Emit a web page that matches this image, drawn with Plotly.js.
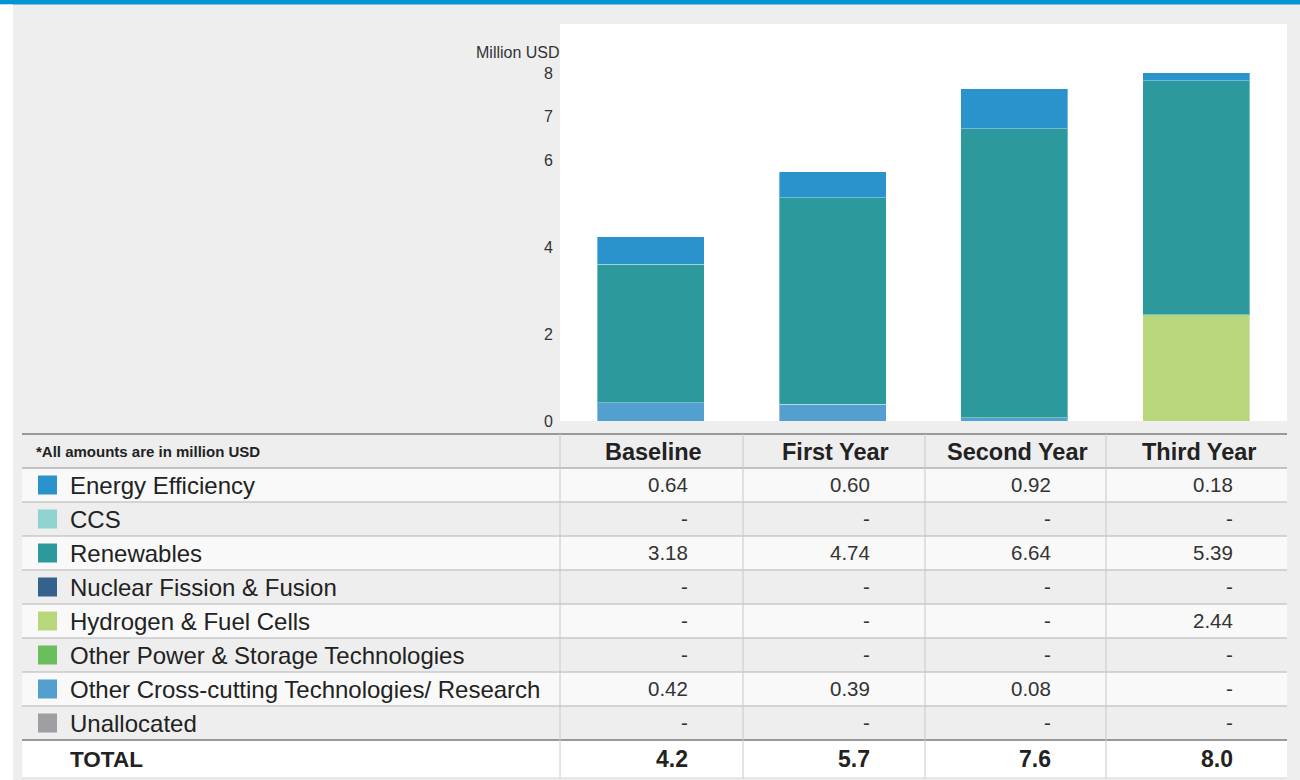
<!DOCTYPE html>
<html>
<head>
<meta charset="utf-8">
<script src="https://cdn.plot.ly/plotly-3.0.1.min.js"></script>
<style>html,body{margin:0;padding:0;background:#eeeeee;}#chart{width:1300px;height:780px;}</style>
</head>
<body>
<div id="chart"></div>
<script>
// ---- data ----
const categories = ['Baseline', 'First Year', 'Second Year', 'Third Year'];
const seriesNames = ['Energy Efficiency', 'CCS', 'Renewables', 'Nuclear Fission & Fusion',
  'Hydrogen & Fuel Cells', 'Other Power & Storage Technologies',
  'Other Cross-cutting Technologies/ Research', 'Unallocated'];
const seriesColors = ['#2a93cc', '#8fd3cf', '#2c9a9d', '#35628d', '#b8d67c', '#68bf5b', '#539fd0', '#9d9fa2'];
const energyEfficiency = [0.64, 0.60, 0.92, 0.18];
const ccs = [null, null, null, null];
const renewables = [3.18, 4.74, 6.64, 5.39];
const nuclear = [null, null, null, null];
const hydrogen = [null, null, null, 2.44];
const otherPower = [null, null, null, null];
const crossCutting = [0.42, 0.39, 0.08, null];
const unallocated = [null, null, null, null];
const totals = [4.2, 5.7, 7.6, 8.0];
const yTickVals = [0, 2, 4, 6, 7, 8];
const unitLabel = 'Million USD';
const tableNote = '*All amounts are in million USD';
const totalLabel = 'TOTAL';

const seriesValues = [energyEfficiency, ccs, renewables, nuclear, hydrogen, otherPower, crossCutting, unallocated];

// ---- layout geometry (pixels) ----
const W = 1300, H = 780;
const px = x => x / W;
const py = y => 1 - y / H;
const tableLeft = 22, tableRight = 1287;
const colEdges = [22, 560, 743, 925, 1106, 1287];
const headerTop = 434, headerBottom = 468, rowH = 34;
const totalBottom = 778;

// ---- bar traces (stacked bottom-up in reverse table order) ----
const traces = [];
for (let i = seriesNames.length - 1; i >= 0; i--) {
  traces.push({
    type: 'bar',
    name: seriesNames[i],
    x: categories,
    y: seriesValues[i],
    marker: { color: seriesColors[i], line: { color: 'rgba(255,255,255,0.35)', width: 1 } },
    hoverinfo: 'x+y+name'
  });
}

const shapes = [];
const annotations = [];

// top blue rule and white left strip
shapes.push({ type: 'rect', xref: 'paper', yref: 'paper', x0: 0, x1: 1, y0: py(4.5), y1: 1, fillcolor: '#0096d6', line: { width: 0 } });
shapes.push({ type: 'rect', xref: 'paper', yref: 'paper', x0: 0, x1: px(13), y0: 0, y1: py(4.5), fillcolor: '#ffffff', line: { width: 0 } });

// row backgrounds
for (let i = 0; i < seriesNames.length; i++) {
  const top = headerBottom + i * rowH;
  shapes.push({ type: 'rect', xref: 'paper', yref: 'paper', x0: px(tableLeft), x1: px(tableRight),
    y0: py(top + rowH), y1: py(top), fillcolor: i % 2 === 0 ? '#f9f9f9' : '#eeeeee', line: { width: 0 } });
}
const totalTop = headerBottom + seriesNames.length * rowH;
shapes.push({ type: 'rect', xref: 'paper', yref: 'paper', x0: px(tableLeft), x1: px(tableRight),
  y0: py(totalBottom), y1: py(totalTop), fillcolor: '#ffffff', line: { width: 0 } });

// horizontal lines
for (let i = 1; i < seriesNames.length; i++) {
  const y = headerBottom + i * rowH;
  shapes.push({ type: 'line', xref: 'paper', yref: 'paper', x0: px(tableLeft), x1: px(tableRight), y0: py(y), y1: py(y), line: { color: '#c8c8c8', width: 1.5 } });
}
shapes.push({ type: 'line', xref: 'paper', yref: 'paper', x0: px(tableLeft), x1: px(tableRight), y0: py(headerBottom), y1: py(headerBottom), line: { color: '#b0b0b0', width: 1.5 } });
shapes.push({ type: 'line', xref: 'paper', yref: 'paper', x0: px(tableLeft), x1: px(tableRight), y0: py(headerTop), y1: py(headerTop), line: { color: '#999999', width: 2 } });
shapes.push({ type: 'line', xref: 'paper', yref: 'paper', x0: px(tableLeft), x1: px(tableRight), y0: py(totalTop), y1: py(totalTop), line: { color: '#999999', width: 2 } });
shapes.push({ type: 'line', xref: 'paper', yref: 'paper', x0: px(tableLeft), x1: px(tableRight), y0: py(totalBottom), y1: py(totalBottom), line: { color: '#d8d8d8', width: 1 } });
// vertical lines
for (let c = 1; c < colEdges.length - 1; c++) {
  shapes.push({ type: 'line', xref: 'paper', yref: 'paper', x0: px(colEdges[c]), x1: px(colEdges[c]), y0: py(totalBottom), y1: py(headerTop), line: { color: '#c8c8c8', width: 1 } });
}

// header
annotations.push({ xref: 'paper', yref: 'paper', x: px(34), y: py((headerTop + headerBottom) / 2), xanchor: 'left', yanchor: 'middle',
  text: '<b>' + tableNote + '</b>', showarrow: false, font: { size: 15, color: '#222222' } });
categories.forEach(cat => {
  annotations.push({ xref: 'x', yref: 'paper', x: cat, xshift: 3, y: py((headerTop + headerBottom) / 2 + 1), xanchor: 'center', yanchor: 'middle',
    text: '<b>' + cat + '</b>', showarrow: false, font: { size: 23.5, color: '#222222' } });
});

// body rows
const fmt = v => (v === null || v === undefined) ? '-' : v.toFixed(2);
seriesNames.forEach((name, i) => {
  const top = headerBottom + i * rowH;
  const mid = top + rowH / 2;
  shapes.push({ type: 'rect', xref: 'paper', yref: 'paper', x0: px(38), x1: px(57), y0: py(mid + 9.5), y1: py(mid - 9.5), fillcolor: seriesColors[i], line: { width: 0 } });
  annotations.push({ xref: 'paper', yref: 'paper', x: px(68), y: py(mid + 0.5), xanchor: 'left', yanchor: 'middle',
    text: name, showarrow: false, font: { size: 24, color: '#222222' } });
  categories.forEach((cat, j) => {
    annotations.push({ xref: 'x', yref: 'paper', x: cat, xshift: 39, y: py(mid - 1), xanchor: 'right', yanchor: 'middle',
      text: fmt(seriesValues[i][j]), showarrow: false, font: { size: 20.5, color: '#333333' } });
  });
});

// total row
const totalMid = (totalTop + totalBottom) / 2;
annotations.push({ xref: 'paper', yref: 'paper', x: px(68), y: py(totalMid), xanchor: 'left', yanchor: 'middle',
  text: '<b>' + totalLabel + '</b>', showarrow: false, font: { size: 22.5, color: '#222222' } });
categories.forEach((cat, j) => {
  annotations.push({ xref: 'x', yref: 'paper', x: cat, xshift: 39, y: py(totalMid), xanchor: 'right', yanchor: 'middle',
    text: '<b>' + totals[j].toFixed(1) + '</b>', showarrow: false, font: { size: 23, color: '#222222' } });
});

// axis unit label
annotations.push({ xref: 'paper', yref: 'paper', x: px(562), y: py(53), xanchor: 'right', yanchor: 'middle',
  text: unitLabel, showarrow: false, font: { size: 16, color: '#333333' } });

const layout = {
  width: W, height: H,
  margin: { l: 0, r: 0, t: 0, b: 0, pad: 0 },
  paper_bgcolor: '#eeeeee',
  plot_bgcolor: '#ffffff',
  font: { family: 'Liberation Sans, Arial, Helvetica, sans-serif', color: '#333333' },
  barmode: 'stack',
  bargap: 0.41,
  showlegend: false,
  xaxis: {
    domain: [px(560), px(1287)],
    type: 'category',
    showticklabels: false,
    showgrid: false, zeroline: false, showline: false, ticks: '',
    fixedrange: true
  },
  yaxis: {
    domain: [py(421), py(24)],
    range: [0, 9.13],
    tickmode: 'array',
    tickvals: yTickVals,
    ticktext: yTickVals.map(String),
    showgrid: false, zeroline: false, showline: false,
    ticks: 'outside', ticklen: 3, tickcolor: 'rgba(0,0,0,0)',
    tickfont: { size: 16, color: '#333333' },
    fixedrange: true
  },
  shapes: shapes,
  annotations: annotations
};

Plotly.newPlot('chart', traces, layout, { displayModeBar: false, staticPlot: true });
</script>
</body>
</html>
